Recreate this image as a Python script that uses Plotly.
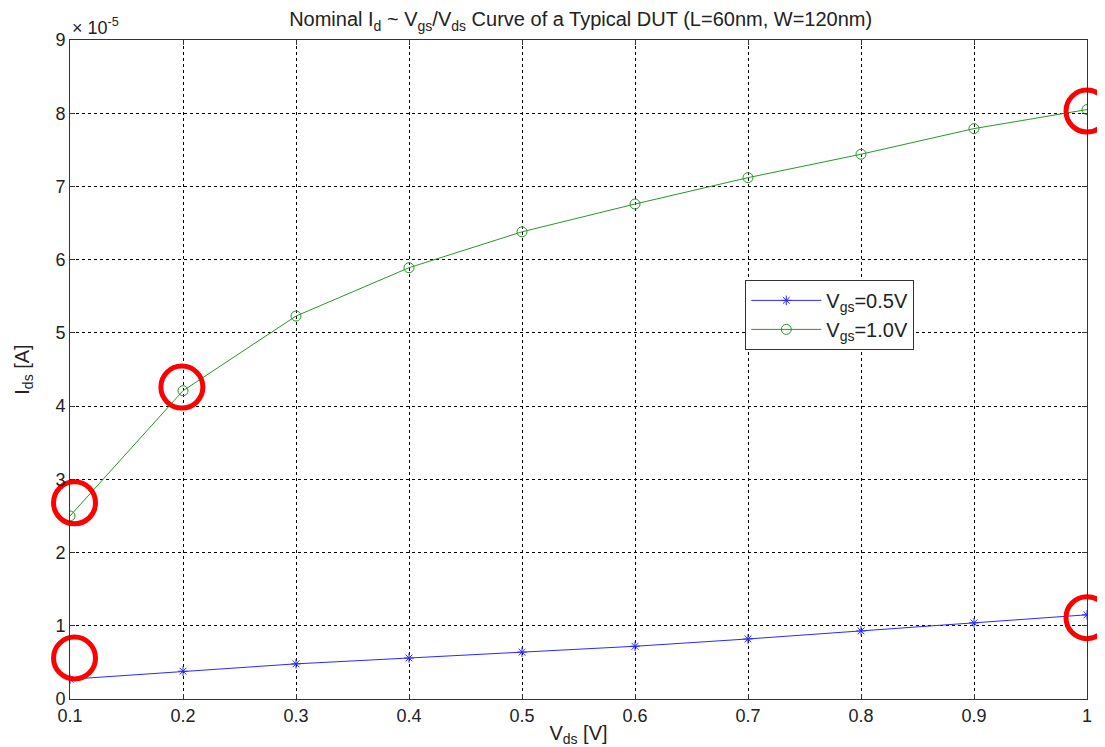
import plotly.graph_objects as go

vds = [0.1, 0.2, 0.3, 0.4, 0.5, 0.6, 0.7, 0.8, 0.9, 1.0]
# drain current in units of 1e-5 A
id_vgs05 = [0.27, 0.38, 0.48, 0.56, 0.64, 0.72, 0.82, 0.93, 1.04, 1.15]
id_vgs10 = [2.50, 4.21, 5.23, 5.89, 6.38, 6.76, 7.12, 7.44, 7.79, 8.05]
highlight_x = [0.104, 0.104, 0.199, 1.0, 1.0]
highlight_y = [0.56, 2.68, 4.26, 8.03, 1.11]
x_ticks = [0.1, 0.2, 0.3, 0.4, 0.5, 0.6, 0.7, 0.8, 0.9, 1.0]
x_tick_labels = ["0.1", "0.2", "0.3", "0.4", "0.5", "0.6", "0.7", "0.8", "0.9", "1"]
y_ticks = [0, 1, 2, 3, 4, 5, 6, 7, 8, 9]

FONT = "Liberation Sans, Arial, sans-serif"

fig = go.Figure()
fig.add_trace(go.Scatter(
    x=vds, y=id_vgs05, mode="lines+markers", name="V<sub>gs</sub>=0.5V",
    line=dict(color="rgb(40,40,255)", width=1),
    marker=dict(symbol="asterisk-open", size=8, line=dict(color="rgb(40,40,255)", width=1)),
))
fig.add_trace(go.Scatter(
    x=vds, y=id_vgs10, mode="lines+markers", name="V<sub>gs</sub>=1.0V",
    line=dict(color="rgb(40,150,40)", width=1),
    marker=dict(symbol="circle-open", size=10, color="rgb(40,150,40)", line=dict(width=1)),
))
fig.add_trace(go.Scatter(
    x=highlight_x, y=highlight_y, mode="markers", showlegend=False, hoverinfo="skip",
    marker=dict(symbol="circle-open", size=42, color="red", line=dict(color="red", width=5)),
    cliponaxis=False,
))

axis_common = dict(
    showline=True, linecolor="#333", linewidth=1, mirror="allticks",
    ticks="inside", ticklen=5, tickcolor="#333", automargin=False,
    showgrid=True, gridcolor="black", griddash="dot", gridwidth=1,
    zeroline=False, tickfont=dict(family=FONT, size=18, color="#222"),
)

fig.update_layout(
    width=1097, height=739,
    margin=dict(l=62, r=18, t=32, b=48),
    paper_bgcolor="white", plot_bgcolor="white",
    font=dict(family=FONT, color="#222"),
    title=dict(
        text="Nominal I<sub>d</sub> ~ V<sub>gs</sub>/V<sub>ds</sub> Curve of a Typical DUT (L=60nm, W=120nm)",
        x=0.522, xanchor="center", y=0.994, yanchor="top",
        font=dict(family=FONT, size=20, color="#222"),
    ),
    xaxis=dict(range=[0.1, 1.0], tickvals=x_ticks, ticktext=x_tick_labels,
               title=dict(text="V<sub>ds</sub> [V]", font=dict(family=FONT, size=20), standoff=2),
               **axis_common),
    yaxis=dict(range=[0, 9], tickvals=y_ticks,
               title=dict(text="I<sub>ds</sub> [A]", font=dict(family=FONT, size=20), standoff=20),
               **axis_common),
    legend=dict(
        x=0.664, y=0.636, xanchor="left", yanchor="top",
        bgcolor="white", bordercolor="#333", borderwidth=1,
        font=dict(family=FONT, size=20, color="#222"),
        itemwidth=70, tracegroupgap=0,
    ),
    annotations=[dict(
        text="× 10<sup>-5</sup>", xref="paper", yref="paper", x=0.0, y=1.0,
        xanchor="left", yanchor="bottom", showarrow=False,
        font=dict(family=FONT, size=18, color="#222"),
    )],
)

fig.write_html("out.html")
